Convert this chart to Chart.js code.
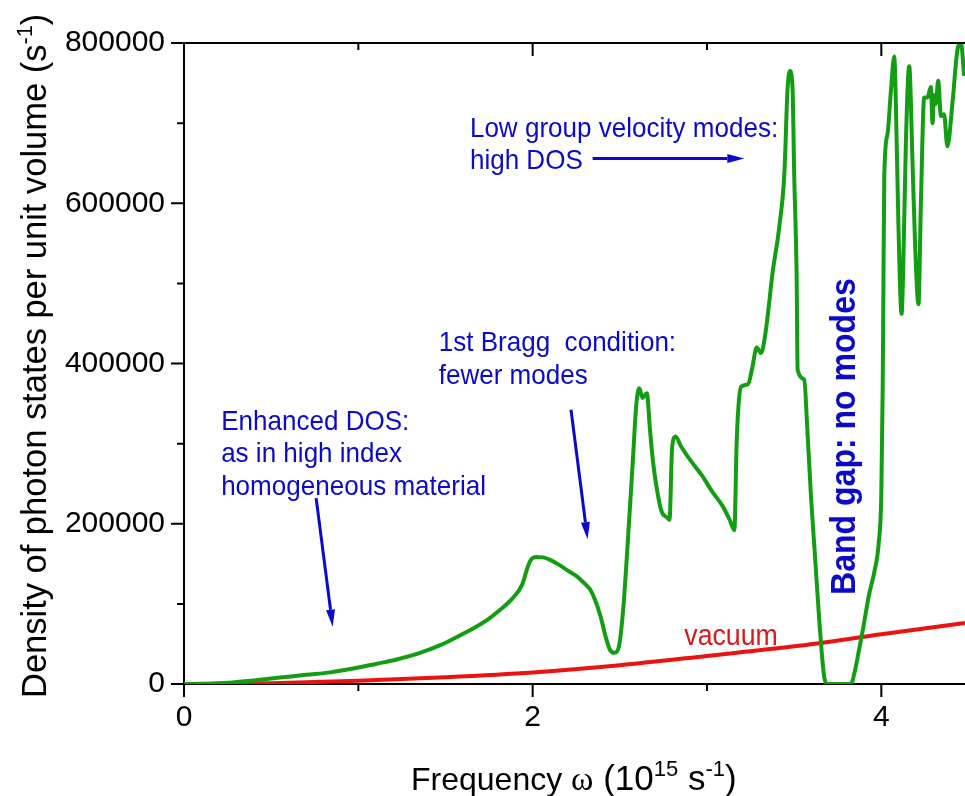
<!DOCTYPE html>
<html>
<head>
<meta charset="utf-8">
<title>Photon density of states</title>
<script src="https://cdn.jsdelivr.net/npm/chart.js@4.4.1/dist/chart.umd.min.js"></script>
<style>
  html, body { margin: 0; padding: 0; background: #fff; }
</style>
</head>
<body>
<canvas id="dosChart" width="965" height="796"></canvas>
<script>
// frequency in 10^15 s^-1, density of states in s^-1 per unit volume
const crystalFreq = [0, 0.1, 0.26, 0.4, 0.55, 0.7, 0.84, 1.0, 1.1, 1.22, 1.35, 1.47, 1.56, 1.66, 1.74, 1.81, 1.88, 1.94, 1.97, 1.99,
    2.02, 2.06, 2.1, 2.15, 2.19, 2.25, 2.3, 2.33, 2.36, 2.39, 2.42, 2.445, 2.47, 2.495, 2.52, 2.545, 2.575, 2.595, 2.612, 2.63,
    2.655, 2.672, 2.69, 2.715, 2.74, 2.77, 2.785, 2.8, 2.82, 2.85, 2.88, 2.93, 2.975, 3.03, 3.09, 3.13, 3.157, 3.17, 3.18, 3.196,
    3.235, 3.26, 3.285, 3.31, 3.338, 3.376, 3.415, 3.444, 3.462, 3.476, 3.491, 3.5, 3.514, 3.52, 3.558, 3.575, 3.596, 3.62, 3.644, 3.673,
    3.692, 3.826, 3.845, 3.87, 3.892, 3.93, 3.96, 3.985, 4.0, 4.008, 4.012, 4.017, 4.036, 4.055, 4.074, 4.083, 4.098, 4.116, 4.131, 4.141,
    4.16, 4.179, 4.194, 4.213, 4.227, 4.246, 4.265, 4.284, 4.294, 4.302, 4.313, 4.326, 4.342, 4.36, 4.379, 4.408, 4.437, 4.457, 4.475];
const crystalDos = [0, 300, 1600, 4500, 8000, 11500, 14500, 20500, 25000, 30500, 38500, 48500, 58000, 69500, 80000, 92000, 106000, 124000, 145000, 155000,
    158500, 158000, 155000, 149000, 143000, 135000, 125000, 118000, 104000, 84000, 58000, 42000, 39000, 47000, 95000, 175000, 280000, 350000, 369000, 357000,
    363000, 320000, 278000, 240000, 215000, 208000, 205000, 295000, 309000, 297000, 287000, 272000, 259000, 240000, 222000, 205000, 192000, 300000, 345000, 371000,
    374000, 395000, 420000, 413000, 442000, 513000, 571000, 638000, 742000, 765000, 742000, 638000, 513000, 392000, 380000, 320000, 236000, 158000, 80000, 8000,
    0, 0, 13000, 40000, 65000, 112000, 140000, 176000, 238000, 371000, 495000, 635000, 687000, 740000, 783000, 728000, 574000, 462000, 574000, 677000,
    771000, 651000, 547000, 474000, 600000, 732000, 732000, 745000, 700000, 735000, 724000, 753000, 709000, 711000, 671000, 725000, 792000, 800000, 759000];

const vacuumFreq = [0, 0.38, 0.5, 1.0, 1.5, 2.0, 2.5, 3.0, 3.5, 4.0, 4.48];
const vacuumDos = [0, 500, 1000, 4000, 8500, 14500, 23500, 35000, 47000, 62000, 76000];

const xTickValues = [0, 1, 2, 3, 4];
const xTickLabels = ['0', '', '2', '', '4'];
const yTickValues = [0, 100000, 200000, 300000, 400000, 500000, 600000, 700000, 800000];
const yTickLabels = ['0', '', '200000', '', '400000', '', '600000', '', '800000'];

const SANS = "'Liberation Sans', Arial, sans-serif";
const SERIF = "'Liberation Serif', 'Times New Roman', serif";
const NOTE_BLUE = '#0a0ac8';

// draw a row of text runs (with superscripts) squeezed horizontally
function drawRuns(ctx, runs, x, y, squeeze, angle) {
    ctx.save();
    ctx.translate(x, y);
    if (angle) ctx.rotate(angle);
    ctx.scale(squeeze, 1);
    ctx.textAlign = 'left';
    ctx.textBaseline = 'alphabetic';
    let cx = 0;
    runs.forEach(r => {
        ctx.font = (r.bold ? 'bold ' : '') + r.size + 'px ' + (r.family || SANS);
        ctx.fillText(r.text, cx, r.rise ? -r.rise : 0);
        cx += ctx.measureText(r.text).width;
    });
    ctx.restore();
}

function drawArrow(ctx, x1, y1, x2, y2) {
    const ang = Math.atan2(y2 - y1, x2 - x1);
    const headLen = 17, headHalf = 4.5;
    const bx = x2 - headLen * Math.cos(ang), by = y2 - headLen * Math.sin(ang);
    ctx.beginPath();
    ctx.moveTo(x1, y1);
    ctx.lineTo(bx, by);
    ctx.stroke();
    ctx.beginPath();
    ctx.moveTo(x2, y2);
    ctx.lineTo(bx + headHalf * Math.sin(ang), by - headHalf * Math.cos(ang));
    ctx.lineTo(bx - headHalf * Math.sin(ang), by + headHalf * Math.cos(ang));
    ctx.closePath();
    ctx.fill();
}

const frameAndNotes = {
    id: 'frameAndNotes',
    afterDraw(chart) {
        const { ctx, chartArea: area, scales: { x, y } } = chart;
        const px = v => x.getPixelForValue(v);
        const py = v => y.getPixelForValue(v);
        ctx.save();

        // top frame line and tick marks
        ctx.strokeStyle = '#000';
        ctx.lineWidth = 2;
        ctx.beginPath();
        ctx.moveTo(area.left, area.top);
        ctx.lineTo(area.right, area.top);
        xTickValues.forEach((v, i) => {
            const len = xTickLabels[i] ? 13 : 7;
            ctx.moveTo(px(v), area.bottom);
            ctx.lineTo(px(v), area.bottom + len);
            ctx.moveTo(px(v), area.top);
            ctx.lineTo(px(v), area.top + len);
        });
        yTickValues.forEach((v, i) => {
            const len = yTickLabels[i] ? 13 : 7;
            ctx.moveTo(area.left - len, py(v));
            ctx.lineTo(area.left, py(v));
        });
        ctx.stroke();

        // axis titles
        ctx.fillStyle = '#000';
        drawRuns(ctx, [
            { text: 'Frequency ', size: 32 },
            { text: 'ω', size: 34, family: SERIF },
            { text: ' (10', size: 35 },
            { text: '15', size: 22, rise: 14 },
            { text: ' s', size: 35 },
            { text: '-1', size: 22, rise: 14 },
            { text: ')', size: 35 }
        ], 411, 790, 1);
        drawRuns(ctx, [
            { text: 'Density of photon states per unit volume (s', size: 35 },
            { text: '-1', size: 22, rise: 14 },
            { text: ')', size: 35 }
        ], 46, 698, 0.985, -Math.PI / 2);

        // annotations
        ctx.fillStyle = NOTE_BLUE;
        ctx.strokeStyle = NOTE_BLUE;
        ctx.lineWidth = 3;
        const note = (lines, fx, fy) => {
            lines.forEach((t, i) => drawRuns(ctx, [{ text: t, size: 28 }], px(fx), py(fy) + i * 32.5, 0.93));
        };
        note(['Low group velocity modes:', 'high DOS'], 1.64, 683300);
        drawArrow(ctx, px(2.344), py(655800), px(3.214), py(655800));

        note(['1st Bragg  condition:', 'fewer modes'], 1.461, 415100);
        drawArrow(ctx, px(2.22), py(342300), px(2.315), py(180800));

        note(['Enhanced DOS:', 'as in high index', 'homogeneous material'], 0.213, 317300);
        drawArrow(ctx, px(0.758), py(232000), px(0.853), py(71600));

        drawRuns(ctx, [{ text: 'Band gap: no modes', size: 35, bold: true }], px(3.85), py(111200), 0.915, -Math.PI / 2);

        ctx.fillStyle = '#d41a1a';
        drawRuns(ctx, [{ text: 'vacuum', size: 29 }], px(2.87), py(48700), 0.92);

        ctx.restore();
    }
};

const toPoints = (xs, ys) => xs.map((v, i) => ({ x: v, y: ys[i] }));

new Chart(document.getElementById('dosChart'), {
    type: 'line',
    data: {
        datasets: [{
            label: 'photonic crystal',
            data: toPoints(crystalFreq, crystalDos),
            borderColor: '#139d13',
            borderWidth: 4,
            pointRadius: 0,
            cubicInterpolationMode: 'monotone'
        }, {
            label: 'vacuum',
            data: toPoints(vacuumFreq, vacuumDos),
            borderColor: '#ee1111',
            borderWidth: 4,
            pointRadius: 0,
            cubicInterpolationMode: 'monotone'
        }]
    },
    options: {
        responsive: false,
        animation: false,
        layout: { padding: { top: 43, right: 0, bottom: 0, left: 0 } },
        plugins: { legend: { display: false }, tooltip: { enabled: false } },
        scales: {
            x: {
                type: 'linear',
                min: 0,
                max: 4.48,
                grid: { display: false, drawTicks: false },
                border: { display: true, color: '#000', width: 2 },
                ticks: {
                    stepSize: 1,
                    includeBounds: false,
                    autoSkip: false,
                    maxRotation: 0,
                    padding: 16,
                    color: '#000',
                    font: { family: SANS, size: 30 },
                    callback: v => {
                        const i = xTickValues.indexOf(v);
                        return i >= 0 ? xTickLabels[i] : '';
                    }
                },
                afterFit: scale => { scale.height = 112; }
            },
            y: {
                min: 0,
                max: 800000,
                grid: { display: false, drawTicks: false },
                border: { display: true, color: '#000', width: 2 },
                ticks: {
                    stepSize: 100000,
                    autoSkip: false,
                    padding: 19,
                    color: '#000',
                    font: { family: SANS, size: 30 },
                    callback: v => {
                        const i = yTickValues.indexOf(v);
                        return i >= 0 ? yTickLabels[i] : '';
                    }
                },
                afterFit: scale => { scale.width = 184; }
            }
        }
    },
    plugins: [frameAndNotes]
});
</script>
</body>
</html>
